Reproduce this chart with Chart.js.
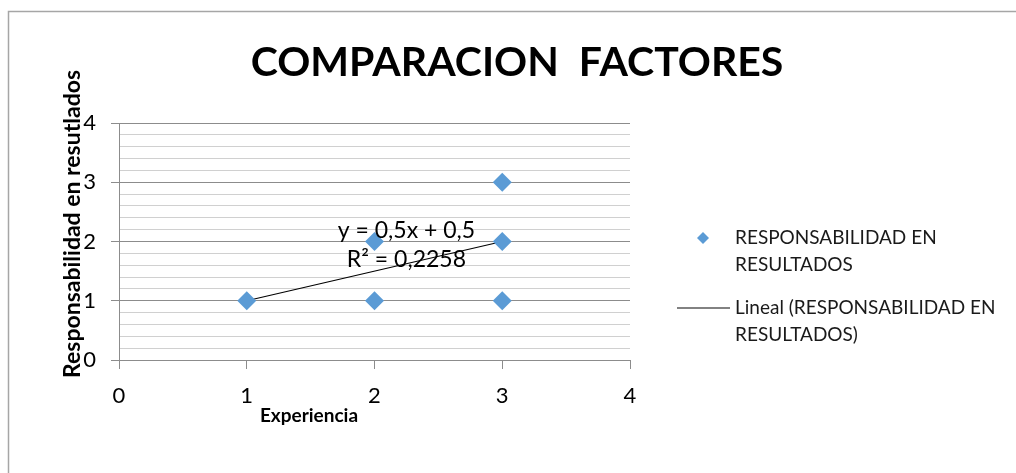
<!DOCTYPE html>
<html>
<head>
  <title>Comparacion factores</title>
  <script src="https://cdn.jsdelivr.net/npm/chart.js"></script>
  <style>
    body { margin: 0; background: #fff; }
  </style>
</head>
<body>
  <canvas id="myChart" width="1016" height="473"></canvas>

  <script>
    // values
    const experiencia = [1, 2, 2, 3, 3, 3];
    const responsabilidad = [1, 1, 2, 1, 2, 3];
    const trendX = [1, 3];
    const trendY = [1, 2];
    const xTicks = [0, 1, 2, 3, 4];
    const yTicks = [0, 1, 2, 3, 4];
    const seriesName = 'RESPONSABILIDAD EN RESULTADOS';
    const trendName = 'Lineal (RESPONSABILIDAD EN RESULTADOS)';
    const equationLines = ['y = 0,5x + 0,5', 'R² = 0,2258'];
    const chartTitle = 'COMPARACION  FACTORES';
    const xTitle = 'Experiencia';
    const yTitle = 'Responsabilidad en resutlados';

    const FONT = 'Lato, "Liberation Sans", sans-serif';
    const BLUE = '#5b9bd5';
    const MAJOR = '#8c8c8c';
    const MINOR = '#d0d0d0';

    function isMajor(v) {
      return yTicks.some(t => Math.abs(t - v) < 1e-6);
    }

    function wrap(ctx, text, maxWidth) {
      let words = text.split(' ');
      let lines = [];
      let line = '';
      for (let w of words) {
        let test = line ? line + ' ' + w : w;
        if (ctx.measureText(test).width > maxWidth && line) {
          lines.push(line);
          line = w;
        } else {
          line = test;
        }
      }
      lines.push(line);
      return lines;
    }

    const decorations = {
      id: 'decorations',
      beforeDraw(chart) {
        const c = chart.ctx;
        c.save();
        c.fillStyle = '#fff';
        c.fillRect(0, 0, chart.width, chart.height);
        c.strokeStyle = '#a6a6a6';
        c.lineWidth = 1.5;
        c.beginPath();
        c.moveTo(8.5, chart.height + 2);
        c.lineTo(8.5, 11.5);
        c.lineTo(chart.width + 2, 11.5);
        c.stroke();
        c.restore();
      },
      afterDraw(chart) {
        const c = chart.ctx;
        const xs = chart.scales.x;
        const ys = chart.scales.y;
        c.save();
        c.fillStyle = '#000';
        c.textBaseline = 'middle';

        // title
        c.textAlign = 'center';
        c.font = 'bold 41px ' + FONT;
        c.fillText(chartTitle, 517, 63);

        // axis titles
        c.font = 'bold 19px ' + FONT;
        c.fillText(xTitle, 309, 416);
        c.save();
        c.translate(73, 224);
        c.rotate(-Math.PI / 2);
        c.font = 'bold 23px ' + FONT;
        c.fillText(yTitle, 0, 0);
        c.restore();

        // trendline equation
        c.font = '23px ' + FONT;
        c.fillText(equationLines[0], xs.getPixelForValue(2.25), ys.getPixelForValue(2.19));
        c.fillText(equationLines[1], xs.getPixelForValue(2.25), ys.getPixelForValue(1.69));

        // legend
        c.textAlign = 'left';
        c.font = '19px ' + FONT;
        const ds = chart.data.datasets;
        let y = 238;
        ds.forEach((d, i) => {
          const lines = wrap(c, d.label, 275);
          if (i === 0) {
            c.fillStyle = BLUE;
            c.beginPath();
            c.moveTo(703, y - 6);
            c.lineTo(709, y);
            c.lineTo(703, y + 6);
            c.lineTo(697, y);
            c.closePath();
            c.fill();
          } else {
            c.strokeStyle = '#595959';
            c.lineWidth = 1.5;
            c.beginPath();
            c.moveTo(677, y);
            c.lineTo(730, y);
            c.stroke();
          }
          c.fillStyle = '#1a1a1a';
          lines.forEach((l, k) => c.fillText(l, 735, y + k * 27));
          y += 70;
        });
        c.restore();
      }
    };

    const ctx = document.getElementById('myChart').getContext('2d');
    const myChart = new Chart(ctx, {
      type: 'scatter',
      data: {
        datasets: [{
          label: seriesName,
          data: experiencia.map((x, i) => ({ x: x, y: responsabilidad[i] })),
          pointStyle: 'rectRot',
          pointRadius: 9.5,
          pointHoverRadius: 9.5,
          backgroundColor: BLUE,
          borderColor: BLUE,
          borderWidth: 0
        }, {
          type: 'line',
          label: trendName,
          data: trendX.map((x, i) => ({ x: x, y: trendY[i] })),
          borderColor: '#000',
          borderWidth: 1.2,
          pointRadius: 0,
          fill: false
        }]
      },
      options: {
        responsive: false,
        animation: false,
        layout: {
          padding: { left: 0, top: 123, right: 386, bottom: 0 }
        },
        plugins: {
          legend: { display: false },
          title: { display: false },
          tooltip: { enabled: false }
        },
        scales: {
          x: {
            type: 'linear',
            position: 'bottom',
            min: xTicks[0],
            max: xTicks[xTicks.length - 1],
            afterFit(scale) { scale.height = 113; },
            afterBuildTicks(scale) { scale.ticks = xTicks.map(v => ({ value: v })); },
            ticks: {
              color: '#000',
              font: { family: FONT, size: 22 },
              padding: 14
            },
            grid: {
              drawOnChartArea: false,
              tickLength: 9,
              color: MAJOR
            },
            border: { color: MAJOR }
          },
          y: {
            type: 'linear',
            min: yTicks[0],
            max: yTicks[yTicks.length - 1],
            afterFit(scale) { scale.width = 119; },
            ticks: {
              stepSize: 0.2,
              autoSkip: false,
              color: '#000',
              font: { family: FONT, size: 22 },
              padding: 15,
              callback: v => isMajor(v) ? String(Math.round(v)) : ''
            },
            grid: {
              tickLength: 8,
              color: c => isMajor(c.tick.value) ? MAJOR : MINOR,
              tickColor: c => isMajor(c.tick.value) ? MAJOR : 'rgba(0,0,0,0)'
            },
            border: { color: MAJOR }
          }
        }
      },
      plugins: [decorations]
    });
  </script>
</body>
</html>
